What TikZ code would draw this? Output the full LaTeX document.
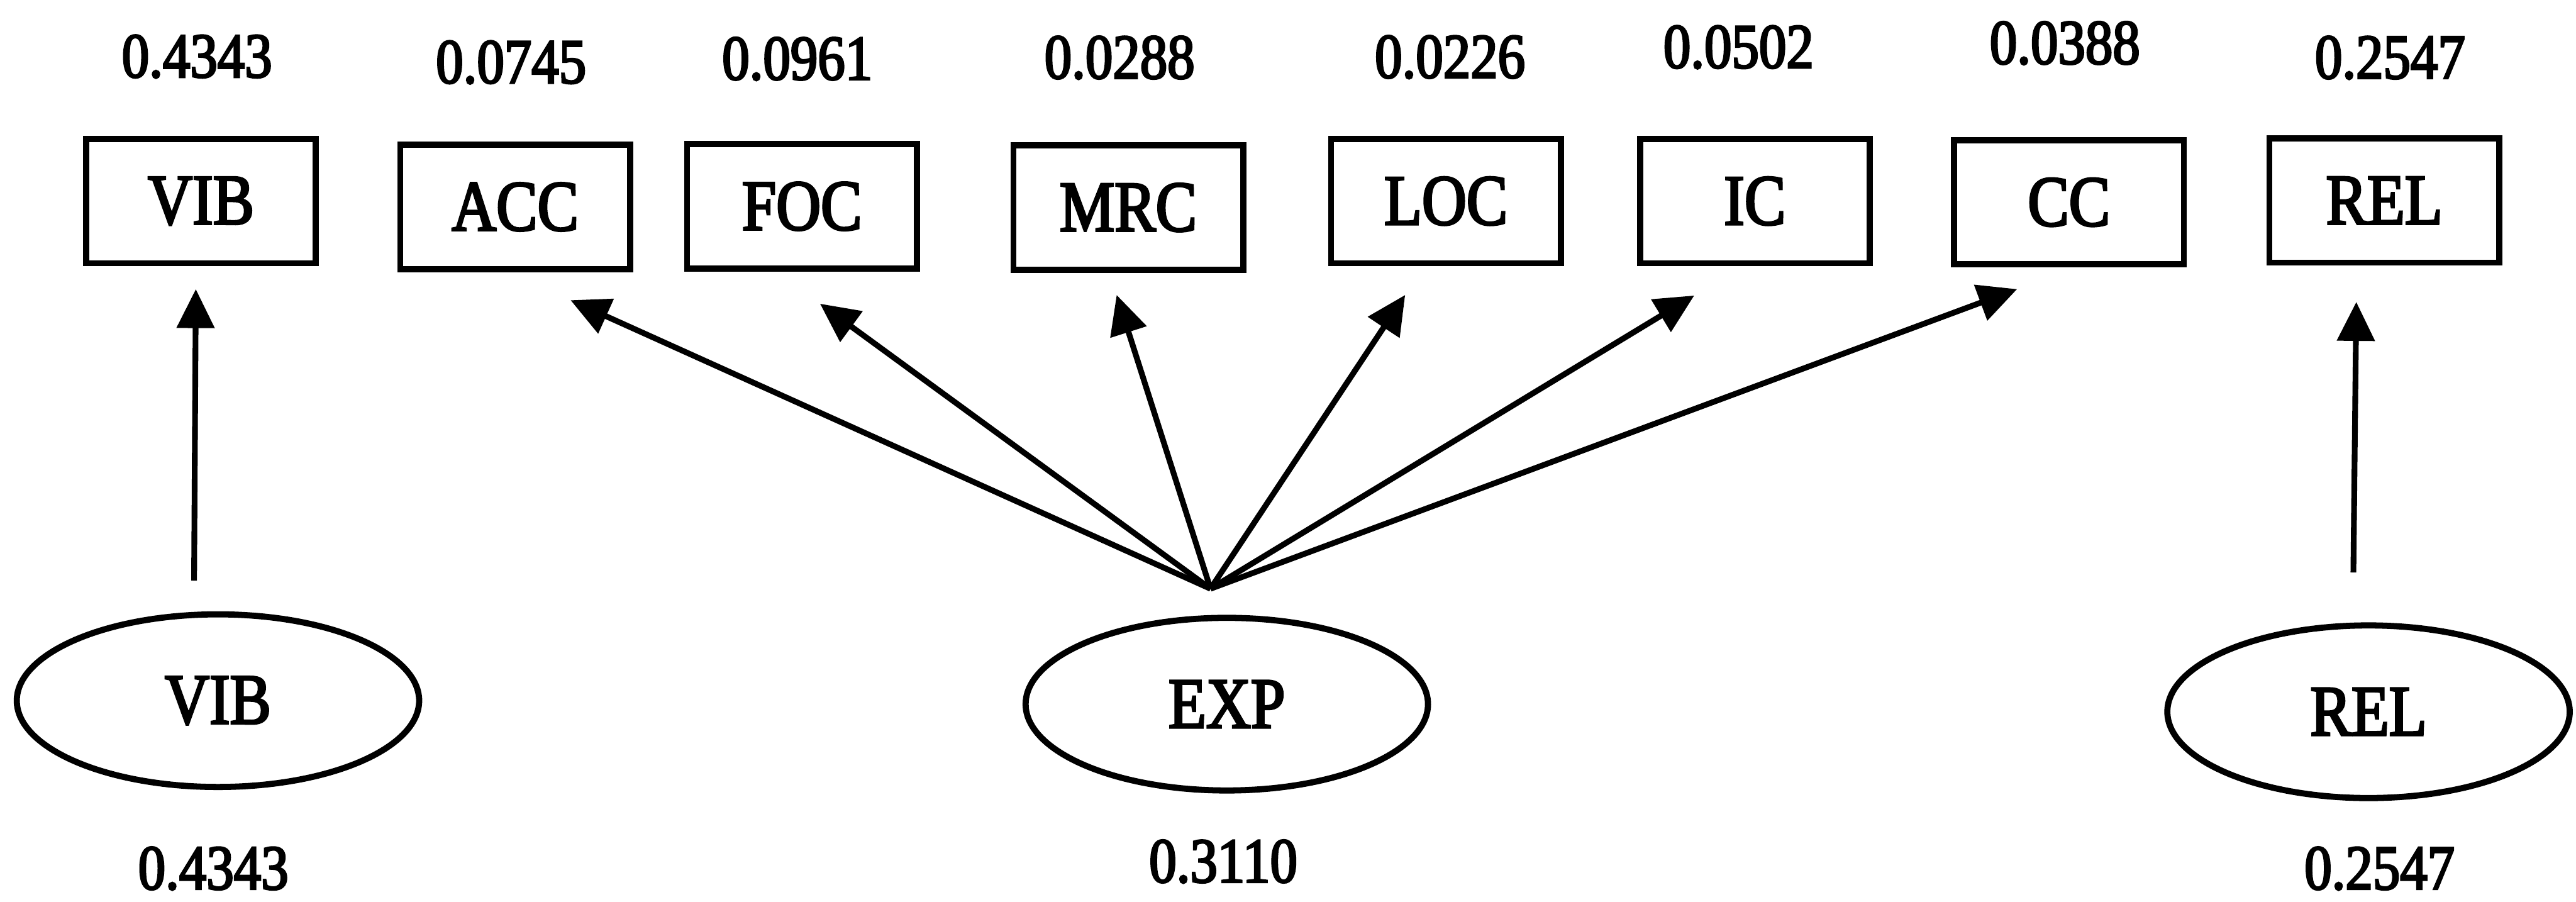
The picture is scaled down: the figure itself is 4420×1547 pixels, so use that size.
\documentclass[tikz,border=0pt]{standalone}
\usepackage{fontspec}
\setmainfont{Liberation Serif}[FakeStretch=0.86,FakeBold=3]
\usetikzlibrary{arrows.meta,shapes.geometric}
\newcommand{\lblfont}{\fontsize{35}{40}\selectfont}
\newcommand{\numfont}{\fontsize{31}{36}\selectfont}
\begin{document}
\begin{tikzpicture}[x=0.01cm,y=-0.01cm,
  obs/.style={draw, line width=3pt, rectangle, minimum width=3.94cm,
              minimum height=2.13cm, inner sep=0pt, font=\lblfont},
  lat/.style={draw, line width=3pt, ellipse, minimum width=6.9cm,
              minimum height=2.96cm, inner sep=0pt, font=\lblfont},
  val/.style={inner sep=0pt, font=\numfont},
  link/.style={line width=2.8pt, -{Triangle[length=19pt,width=18pt]}}]
\useasboundingbox (0,0) rectangle (4420,1547);

% observed indicators
\node[obs] (bVIB) at (345,345)  {VIB};
\node[obs] (bACC) at (884,355)  {ACC};
\node[obs] (bFOC) at (1376,354) {FOC};
\node[obs] (bMRC) at (1936,356) {MRC};
\node[obs] (bLOC) at (2481,345) {LOC};
\node[obs] (bIC)  at (3011,345) {IC};
\node[obs] (bCC)  at (3550,347) {CC};
\node[obs] (bREL) at (4091,344) {REL};

% weights above the indicators
\node[val] (nVIB) at (338,97)  {0.4343};
\node[val] (nACC) at (877,107) {0.0745};
\node[val] (nFOC) at (1368,101) {0.0961};
\node[val] (nMRC) at (1921,99) {0.0288};
\node[val] (nLOC) at (2488,98) {0.0226};
\node[val] (nIC)  at (2983,81) {0.0502};
\node[val] (nCC)  at (3543,74) {0.0388};
\node[val] (nREL) at (4101,99) {0.2547};

% latent factors
\node[lat] (eVIB) at (374,1202)  {VIB};
\node[lat] (eEXP) at (2105,1208) {EXP};
\node[lat] (eREL) at (4064,1221) {REL};

% weights below the factors
\node[val] (mVIB) at (366,1490)  {0.4343};
\node[val] (mEXP) at (2099,1478) {0.3110};
\node[val] (mREL) at (4083,1490) {0.2547};

% arrow ends
\coordinate (vibFoot) at (333,996);
\coordinate (vibHead) at (336,496);
\coordinate (relFoot) at (4038,982);
\coordinate (relHead) at (4043,518);
\coordinate (fan)     at (2077,1010);
\coordinate (accHead) at (979,515);
\coordinate (focHead) at (1407,521);
\coordinate (mrcHead) at (1916,506);
\coordinate (locHead) at (2411,506);
\coordinate (icHead)  at (2907,507);
\coordinate (ccHead)  at (3461,496);

% loadings
\draw[link] (vibFoot) -- (vibHead);
\draw[link] (relFoot) -- (relHead);
\foreach \t in {accHead,focHead,mrcHead,locHead,icHead,ccHead}
  \draw[link] (fan) -- (\t);
\end{tikzpicture}
\end{document}
